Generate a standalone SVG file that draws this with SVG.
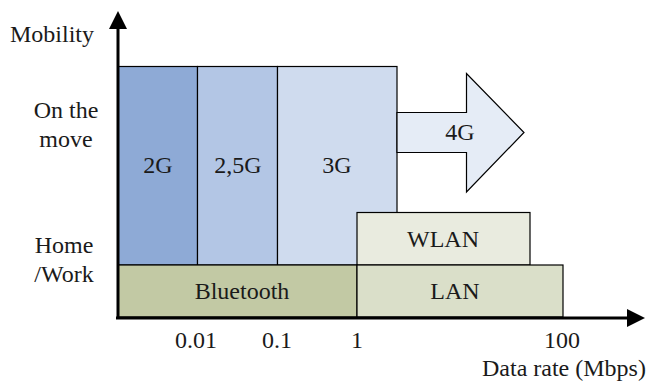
<svg xmlns="http://www.w3.org/2000/svg" width="655" height="382" viewBox="0 0 655 382">
  <rect width="655" height="382" fill="#fff"/>

  <!-- cellular generations -->
  <g stroke="#000" stroke-width="1.2">
    <g id="g2"><rect x="118" y="66.5" width="79.5" height="198.5" fill="#8EAAD6"/></g>
    <g id="g25"><rect x="197.5" y="66.5" width="80" height="198.5" fill="#B3C6E5"/></g>
    <g id="g3"><rect x="277.5" y="66.5" width="119.5" height="198.5" fill="#CFDBEE"/></g>
    <g id="g4"><path d="M397 112.5 H466.5 V73.5 L524 132.5 L466.5 192 V152.5 H397 Z" fill="#E5ECF6"/></g>
    <!-- local networks -->
    <g id="wlan"><rect x="357" y="212.5" width="173" height="52.5" fill="#E9EBDF"/></g>
    <g id="bluetooth"><rect x="118" y="265" width="239" height="52" fill="#C2C9A4"/></g>
    <g id="lan"><rect x="357" y="265" width="206" height="52" fill="#DADFC9"/></g>
  </g>

  <!-- axes -->
  <g id="connectors">
    <line stroke="#000" stroke-width="3" x1="118" y1="319" x2="118" y2="26"/>
    <polygon points="118,11 109,29 127,29" fill="#000"/>
    <line stroke="#000" stroke-width="3" x1="116" y1="318" x2="630" y2="318"/>
    <polygon points="645,318 627,309 627,327" fill="#000"/>
  </g>

  <!-- labels -->
  <text font-family="Liberation Serif" font-size="24" fill="#1a1a1a" text-anchor="middle" x="158" y="173">2G</text>
  <text font-family="Liberation Serif" font-size="24" fill="#1a1a1a" text-anchor="middle" x="238" y="173">2,5G</text>
  <text font-family="Liberation Serif" font-size="24" fill="#1a1a1a" text-anchor="middle" x="337" y="173">3G</text>
  <text font-family="Liberation Serif" font-size="24" fill="#1a1a1a" text-anchor="middle" x="460" y="140">4G</text>
  <text font-family="Liberation Serif" font-size="24" fill="#1a1a1a" text-anchor="middle" x="443" y="247">WLAN</text>
  <text font-family="Liberation Serif" font-size="24" fill="#1a1a1a" text-anchor="middle" x="242" y="299">Bluetooth</text>
  <text font-family="Liberation Serif" font-size="24" fill="#1a1a1a" text-anchor="middle" x="455" y="299">LAN</text>
  <text font-family="Liberation Serif" font-size="24" fill="#1a1a1a" x="10" y="42">Mobility</text>
  <text font-family="Liberation Serif" font-size="24" fill="#1a1a1a" text-anchor="middle" x="66" y="118">On the</text>
  <text font-family="Liberation Serif" font-size="24" fill="#1a1a1a" text-anchor="middle" x="66" y="147">move</text>
  <text font-family="Liberation Serif" font-size="24" fill="#1a1a1a" text-anchor="middle" x="64" y="253">Home</text>
  <text font-family="Liberation Serif" font-size="24" fill="#1a1a1a" text-anchor="middle" x="64" y="282">/Work</text>
  <text font-family="Liberation Serif" font-size="24" fill="#1a1a1a" text-anchor="middle" x="196" y="348">0.01</text>
  <text font-family="Liberation Serif" font-size="24" fill="#1a1a1a" text-anchor="middle" x="277" y="348">0.1</text>
  <text font-family="Liberation Serif" font-size="24" fill="#1a1a1a" text-anchor="middle" x="357" y="348">1</text>
  <text font-family="Liberation Serif" font-size="24" fill="#1a1a1a" text-anchor="middle" x="562" y="348">100</text>
  <text font-family="Liberation Serif" font-size="24" fill="#1a1a1a" x="482" y="376">Data rate (Mbps)</text>
</svg>
